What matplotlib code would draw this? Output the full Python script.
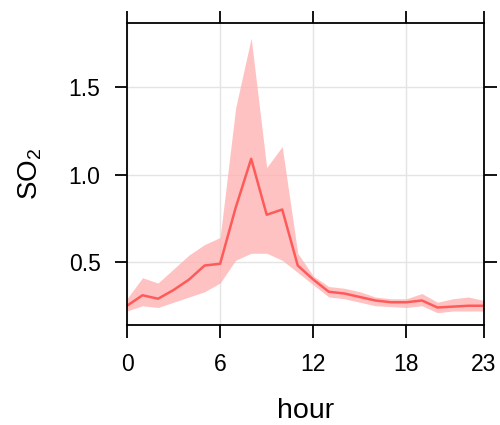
import numpy as np
import matplotlib.pyplot as plt

plt.rcParams['font.family'] = ['Liberation Sans', 'DejaVu Sans']
plt.rcParams['mathtext.fontset'] = 'custom'
plt.rcParams['mathtext.rm'] = 'Liberation Sans'

hours = list(range(24))
so2_mean = [0.25, 0.31, 0.29, 0.34, 0.40, 0.48, 0.49, 0.81, 1.09, 0.77, 0.80, 0.48,
            0.40, 0.33, 0.32, 0.30, 0.28, 0.27, 0.27, 0.28, 0.24, 0.245, 0.25, 0.25]
so2_lower = [0.22, 0.25, 0.24, 0.27, 0.30, 0.33, 0.38, 0.51, 0.55, 0.55, 0.51, 0.44,
             0.37, 0.30, 0.29, 0.27, 0.25, 0.245, 0.24, 0.25, 0.21, 0.22, 0.22, 0.22]
so2_upper = [0.29, 0.41, 0.38, 0.46, 0.54, 0.60, 0.64, 1.38, 1.78, 1.04, 1.16, 0.55,
             0.42, 0.36, 0.35, 0.33, 0.30, 0.29, 0.29, 0.32, 0.27, 0.29, 0.30, 0.28]
xticks = [0, 6, 12, 18, 23]
yticks = [0.5, 1.0, 1.5]

fig = plt.figure(figsize=(5, 4.25), dpi=100)
ax = fig.add_axes([0.254, 0.2353, 0.714, 0.7106])

ax.fill_between(hours, so2_lower, so2_upper, color='#FFB3B3', alpha=0.8, lw=0)
ax.plot(hours, so2_mean, color='#FF5A5A', lw=1.8)

ax.set_xlim(0, 23)
ax.set_ylim(0.14, 1.866)
ax.set_xticks(xticks)
ax.set_yticks(yticks)
ax.set_yticklabels(['0.5', '1.0', '1.5'])
ax.grid(True, color='#E4E4E4', lw=1)
ax.set_axisbelow(True)

ax.tick_params(axis='both', direction='out', length=9, width=1.3, labelsize=16.5,
               top=True, right=True, pad=10, colors='black')
ax.tick_params(axis='x', pad=11)
for s in ax.spines.values():
    s.set_linewidth(1.3)

ax.set_xlabel('hour', fontsize=20.5, labelpad=16)
ax.set_ylabel(r'$\mathregular{SO_2}$', fontsize=20, labelpad=18)

fig.savefig('out.png', dpi=100)
